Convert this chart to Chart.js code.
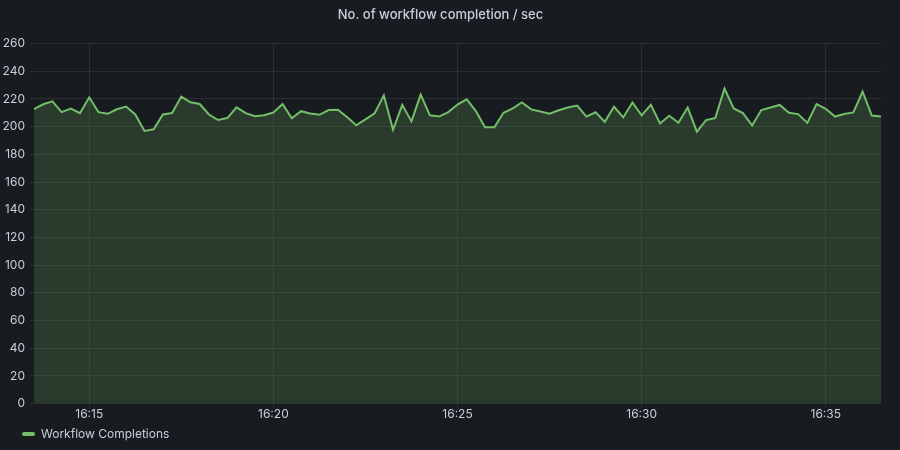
<!DOCTYPE html>
<html>
<head>
<meta charset="utf-8">
<script src="https://cdn.jsdelivr.net/npm/chart.js@4/dist/chart.umd.min.js"></script>
<style>
  html, body { margin: 0; padding: 0; background: #181b1f; }
  #wrap { width: 900px; height: 450px; }
</style>
</head>
<body>
<div id="wrap"><canvas id="chart"></canvas></div>
<script>
// samples every 15 s, first one at 16:13:30
const startTime = "16:13:30";
const stepSeconds = 15;
const completions = [
  212.6, 216.2, 218.3, 210.5, 213.1, 209.8, 221.2, 210.5, 209.3, 212.6,
  214.5, 208.8, 196.9, 198.1, 208.8, 209.8, 221.7, 217.6, 216.4, 208.8,
  204.8, 206.2, 214.0, 209.8, 207.6, 208.3, 210.2, 216.4, 206.0, 211.2,
  209.5, 208.6, 212.0, 212.3, 207.0, 201.0, 205.3, 209.7, 222.6, 197.8,
  215.8, 203.8, 223.2, 208.2, 207.3, 210.5, 216.0, 219.7, 211.2, 199.5,
  199.5, 210.0, 213.2, 217.5, 212.5, 211.0, 209.4, 211.9, 213.9, 215.2,
  207.3, 210.4, 203.5, 214.4, 206.7, 217.5, 208.2, 215.8, 202.3, 207.9,
  202.8, 213.8, 196.4, 204.8, 206.2, 227.5, 213.2, 209.8, 200.9, 212.0,
  213.8, 215.7, 210.0, 209.1, 202.7, 216.3, 212.9, 207.3, 209.1, 210.3,
  225.4, 208.0, 207.3
];
const yTicks = [0, 20, 40, 60, 80, 100, 120, 140, 160, 180, 200, 220, 240, 260];
const xTickMinutes = ["16:15", "16:20", "16:25", "16:30", "16:35"];

function toSec(s) {
  const p = s.split(":").map(Number);
  return p[0] * 3600 + p[1] * 60 + (p[2] || 0);
}
function fmt(sec) {
  const h = Math.floor(sec / 3600);
  const m = Math.floor((sec % 3600) / 60);
  return String(h).padStart(2, "0") + ":" + String(m).padStart(2, "0");
}

const t0 = toSec(startTime);
const points = completions.map((v, i) => ({ x: t0 + i * stepSeconds, y: v }));
const xMin = points[0].x;
const xMax = points[points.length - 1].x;

const green = "#73bf69";
const textColor = "#ccccdc";
const gridColor = "rgba(204, 204, 220, 0.1)";

// nudge the legend right so the swatch sits under the y labels like in grafana
const legendShift = {
  id: "legendShift",
  afterLayout(chart) {
    chart.legend.left += 16;
    chart.legend.right += 16;
  }
};

new Chart(document.getElementById("chart"), {
  type: "line",
  data: {
    datasets: [{
      label: "Workflow Completions",
      data: points,
      borderColor: green,
      backgroundColor: "rgba(115, 191, 105, 0.2)",
      borderWidth: 2,
      fill: "origin",
      pointRadius: 0,
      tension: 0
    }]
  },
  options: {
    responsive: true,
    maintainAspectRatio: false,
    animation: false,
    layout: { padding: { left: 0, right: 19, top: 0, bottom: 0 } },
    plugins: {
      title: {
        display: true,
        text: "No. of workflow completion / sec",
        color: textColor,
        font: { family: "Inter", size: 13, weight: "500" },
        padding: { top: 7, bottom: 21 }
      },
      legend: {
        position: "bottom",
        align: "start",
        labels: {
          color: textColor,
          font: { family: "Inter", size: 12 },
          boxWidth: 13,
          boxHeight: 4,
          padding: 6,
          generateLabels: (chart) => chart.data.datasets.map((ds, i) => ({
            text: ds.label,
            fillStyle: green,
            strokeStyle: green,
            lineWidth: 0,
            borderRadius: 2,
            fontColor: textColor,
            datasetIndex: i
          }))
        }
      },
      tooltip: { enabled: false }
    },
    scales: {
      x: {
        type: "linear",
        min: xMin,
        max: xMax,
        afterBuildTicks: (scale) => {
          scale.ticks = xTickMinutes.map(t => ({ value: toSec(t) }));
        },
        ticks: {
          color: textColor,
          font: { family: "Inter", size: 12 },
          maxRotation: 0,
          padding: 0,
          callback: (v) => fmt(v)
        },
        grid: { color: gridColor, tickLength: 4 },
        border: { display: false }
      },
      y: {
        min: 0,
        max: 260,
        afterBuildTicks: (scale) => {
          scale.ticks = yTicks.map(v => ({ value: v }));
        },
        afterFit: (scale) => { scale.width = 34; },
        ticks: {
          color: textColor,
          font: { family: "Inter", size: 12 },
          padding: 5
        },
        grid: { color: gridColor, tickLength: 4 },
        border: { display: false }
      }
    }
  },
  plugins: [legendShift]
});
</script>
</body>
</html>
